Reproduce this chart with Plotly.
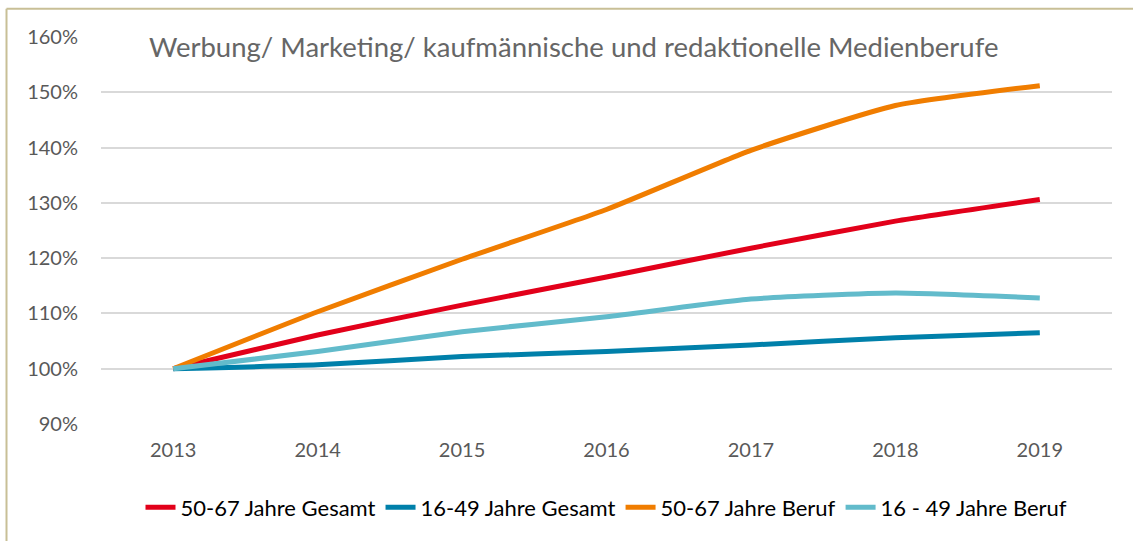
import plotly.graph_objects as go

years = ["2013", "2014", "2015", "2016", "2017", "2018", "2019"]
gesamt_50_67 = [1.000, 1.061, 1.115, 1.166, 1.218, 1.267, 1.306]
gesamt_16_49 = [1.000, 1.007, 1.022, 1.031, 1.043, 1.056, 1.065]
beruf_50_67 = [1.000, 1.103, 1.198, 1.288, 1.395, 1.476, 1.512]
beruf_16_49 = [1.000, 1.031, 1.067, 1.094, 1.126, 1.137, 1.128]

names = ["50-67 Jahre Gesamt", "16-49 Jahre Gesamt", "50-67 Jahre Beruf", "16 - 49 Jahre Beruf"]
colors = ["#E2001A", "#0080AA", "#F07D00", "#62BBCB"]
series = [gesamt_50_67, gesamt_16_49, beruf_50_67, beruf_16_49]
title = "Werbung/ Marketing/ kaufmännische und redaktionelle Medienberufe"

fig = go.Figure()
for n, c, s in zip(names, colors, series):
    fig.add_trace(go.Scatter(x=years, y=s, name=n, mode="lines",
                             line=dict(color=c, width=5, shape="spline", smoothing=0.5)))

W, H = 1133, 541
L, R, T, B = 101, 21, 37, 115
pw, ph = W - L - R, H - T - B

fig.update_layout(
    width=W, height=H,
    margin=dict(l=L, r=R, t=T, b=B),
    paper_bgcolor="white", plot_bgcolor="white",
    font=dict(family="Lato", color="#595959"),
    showlegend=True,
    legend=dict(orientation="h", x=0.5, xanchor="center", y=-84 / ph, yanchor="middle",
                font=dict(size=22, color="#000000", family="Lato"),
                itemwidth=30, tracegroupgap=0),
    xaxis=dict(type="category", range=[-0.5, 6.5], showgrid=False, zeroline=False,
               showline=False, ticks="", ticklabelstandoff=12,
               tickfont=dict(size=20, color="#595959")),
    yaxis=dict(range=[0.9, 1.6], dtick=0.1, tickformat=".0%", showgrid=True,
               gridcolor="#D9D9D9", gridwidth=1.5, zeroline=False, showline=False,
               ticks="", ticklabelstandoff=22, tickfont=dict(size=20, color="#595959")),
    annotations=[dict(text=title, xref="paper", yref="paper",
                      x=(573 - L) / pw, y=(H - B - 47) / ph,
                      xanchor="center", yanchor="middle", showarrow=False,
                      font=dict(size=27.5, color="#666666", family="Lato"))],
    shapes=[
        dict(type="line", xref="paper", yref="paper", x0=(6.5 - L) / pw, x1=(W + 10 - L) / pw,
             y0=(H - B - 8.5) / ph, y1=(H - B - 8.5) / ph, line=dict(color="#C8BF96", width=2)),
        dict(type="line", xref="paper", yref="paper", x0=(6.5 - L) / pw, x1=(6.5 - L) / pw,
             y0=(H - B - 8.5) / ph, y1=-(B + 10) / ph, line=dict(color="#C8BF96", width=2)),
    ],
)
fig.write_html("out.html", config={"displayModeBar": False},
               post_script="document.body.style.margin='0px';document.body.style.overflow='hidden';")
